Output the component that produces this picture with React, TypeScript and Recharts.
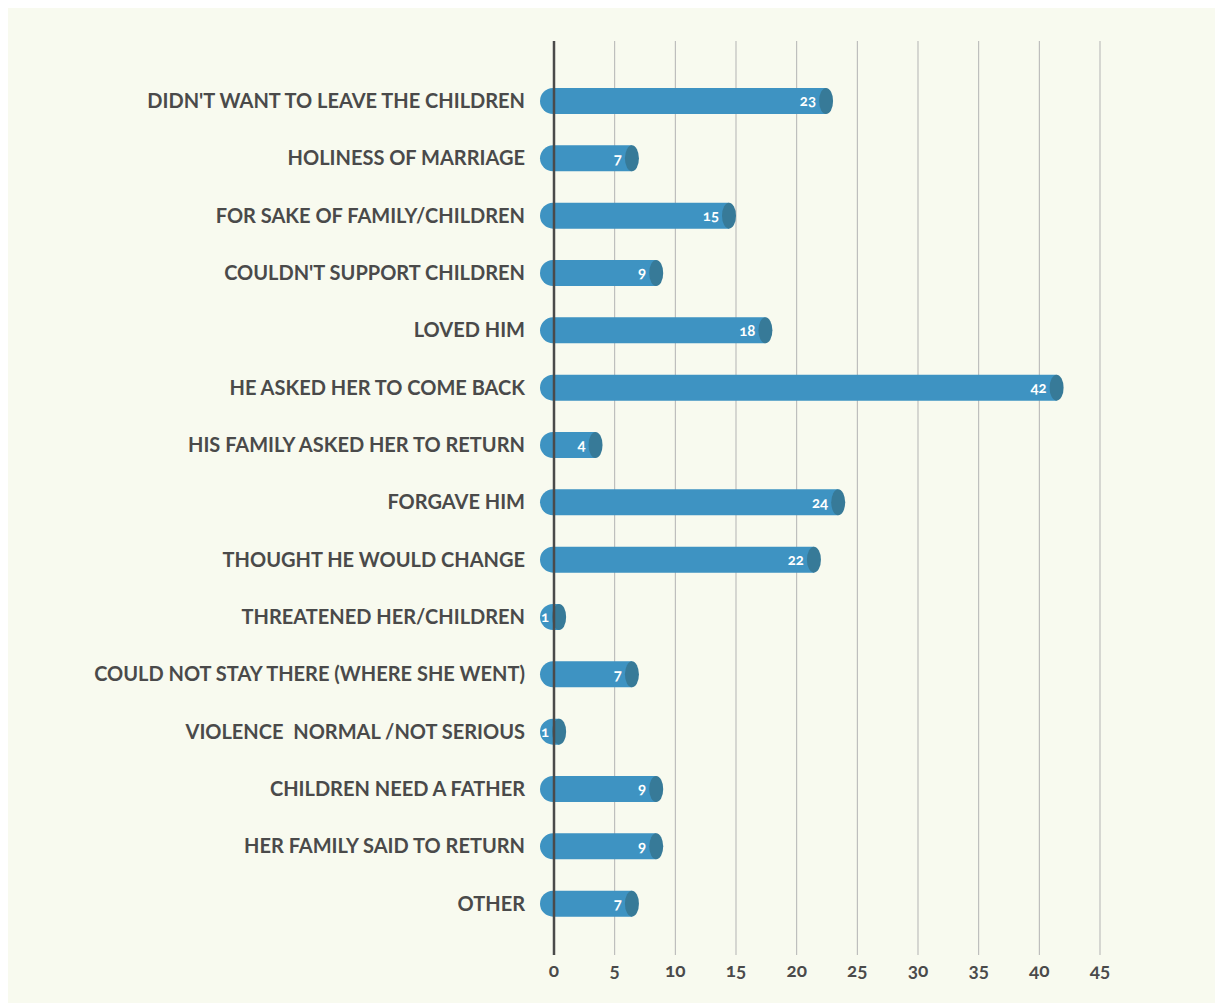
import { BarChart, Bar, XAxis, YAxis, CartesianGrid } from "recharts";

// reasons for returning, counts
const REASONS = [
  "DIDN'T WANT TO LEAVE THE CHILDREN",
  "HOLINESS OF MARRIAGE",
  "FOR SAKE OF FAMILY/CHILDREN",
  "COULDN'T SUPPORT CHILDREN",
  "LOVED HIM",
  "HE ASKED HER TO COME BACK",
  "HIS FAMILY ASKED HER TO RETURN",
  "FORGAVE HIM",
  "THOUGHT HE WOULD CHANGE",
  "THREATENED HER/CHILDREN",
  "COULD NOT STAY THERE (WHERE SHE WENT)",
  "VIOLENCE  NORMAL /NOT SERIOUS",
  "CHILDREN NEED A FATHER",
  "HER FAMILY SAID TO RETURN",
  "OTHER",
];
const COUNTS = [23, 7, 15, 9, 18, 42, 4, 24, 22, 1, 7, 1, 9, 9, 7];
const X_TICKS = [0, 5, 10, 15, 20, 25, 30, 35, 40, 45];

const data = REASONS.map((reason, i) => ({ reason, count: COUNTS[i] }));

const BAR = "#3e93c2";
const CAP = "#377a98";
const TEXT = "#4a4a4a";
const FONT = "Lato, 'Open Sans', sans-serif";

// cylinder: rounded left end, darker elliptical cap on the right
function Cylinder(props: any) {
  const { x, y, width, height, value } = props;
  const r = height / 2;
  const capRx = 7;
  const left = x - 14;
  const right = x + width - capRx;
  const d = `M${left + r},${y} L${right},${y} L${right},${y + height} L${left + r},${y + height} A${r},${r} 0 0 1 ${left + r},${y} Z`;
  return (
    <g>
      <path d={d} fill={BAR} />
      <ellipse cx={right} cy={y + r} rx={capRx} ry={r} fill={CAP} />
      <text
        x={right - capRx - 3}
        y={y + r}
        dy="0.36em"
        textAnchor="end"
        fill="#ffffff"
        fontSize={15}
        fontWeight={700}
        fontFamily={FONT}
        style={{ fontVariantNumeric: "oldstyle-nums" }}
      >
        {value}
      </text>
    </g>
  );
}

function ReasonTick(props: any) {
  const { x, y, payload } = props;
  return (
    <text
      x={x}
      y={y}
      dy="0.36em"
      textAnchor="end"
      fill={TEXT}
      fontSize={20}
      fontWeight={700}
      fontFamily={FONT}
      style={{ whiteSpace: "pre" }}
    >
      {payload.value}
    </text>
  );
}

export default function App() {
  return (
    <div style={{ width: 1209, height: 995, background: "#f8faef" }}>
      <BarChart
        width={1209}
        height={995}
        data={data}
        layout="vertical"
        margin={{ top: 33, right: 117, bottom: 18, left: 0 }}
        barCategoryGap={0}
      >
        <CartesianGrid horizontal={false} stroke="#b3b3b3" strokeWidth={1} />
        <XAxis
          type="number"
          domain={[0, 45]}
          ticks={X_TICKS}
          axisLine={false}
          tickLine={false}
          tickSize={0}
          tickMargin={9}
          height={30}
          tick={{
            fill: TEXT,
            fontSize: 19,
            fontWeight: 700,
            fontFamily: FONT,
            style: { fontVariantNumeric: "oldstyle-nums" },
          }}
        />
        <YAxis
          type="category"
          dataKey="reason"
          width={546}
          interval={0}
          padding={{ top: 31, bottom: 23 }}
          axisLine={{ stroke: TEXT, strokeWidth: 2.5 }}
          tickLine={false}
          tickSize={0}
          tickMargin={29}
          tick={<ReasonTick />}
        />
        <Bar dataKey="count" barSize={26} shape={<Cylinder />} isAnimationActive={false} />
      </BarChart>
    </div>
  );
}
